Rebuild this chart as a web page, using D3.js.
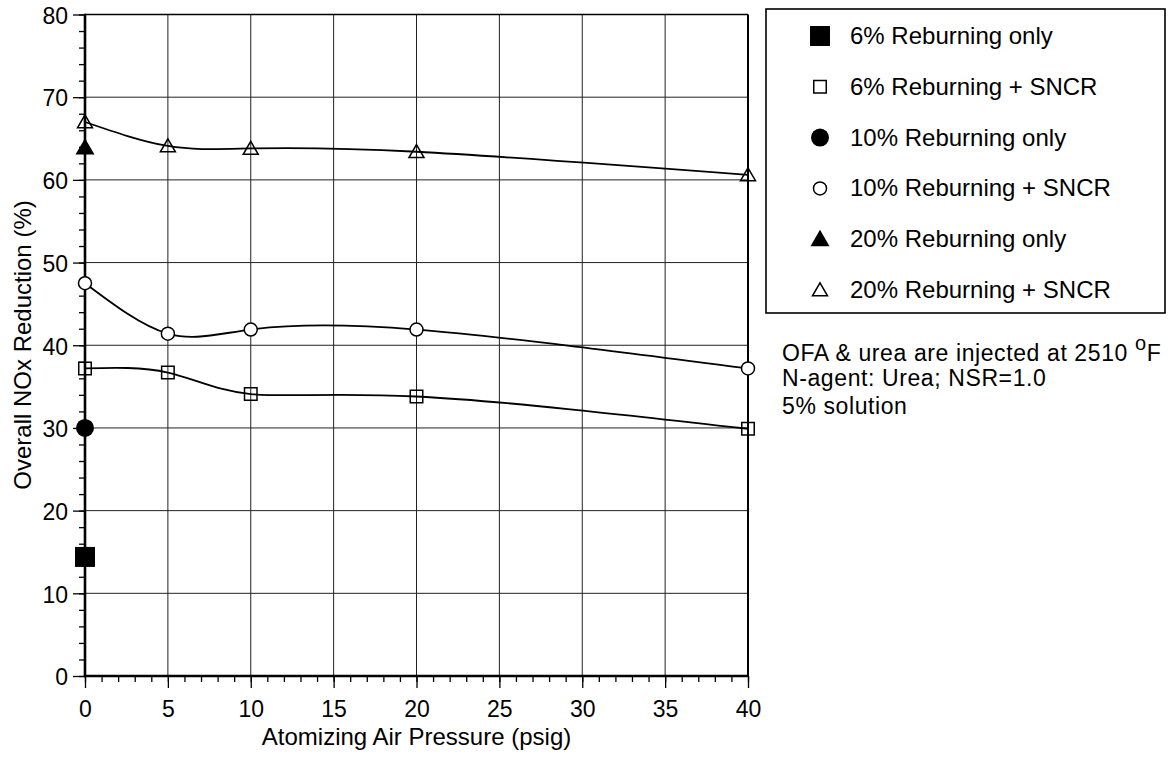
<!DOCTYPE html>
<html>
<head>
<meta charset="utf-8">
<script src="https://cdn.jsdelivr.net/npm/d3@7"></script>
<style>
  body { margin: 0; background: #fff; }
  text { font-family: "Liberation Sans", Arial, sans-serif; fill: #000; }
</style>
</head>
<body>
<svg id="chart" width="1173" height="762"></svg>
<script>
// values
var pressure = [0, 5, 10, 20, 40];
var sncr6 = [37.2, 36.7, 34.1, 33.8, 29.9];
var sncr10 = [47.5, 41.4, 41.9, 41.9, 37.2];
var sncr20 = [67.0, 64.1, 63.8, 63.4, 60.6];
var onlyPressure = [0];
var only6 = [14.4];
var only10 = [30.0];
var only20 = [63.9];

var legendLabels = ["6% Reburning only", "6% Reburning + SNCR", "10% Reburning only",
  "10% Reburning + SNCR", "20% Reburning only", "20% Reburning + SNCR"];
var xTicks = [0, 5, 10, 15, 20, 25, 30, 35, 40];
var yTicks = [0, 10, 20, 30, 40, 50, 60, 70, 80];
var notes = ["OFA & urea are injected at 2510 ", "N-agent: Urea; NSR=1.0", "5% solution"];

var series = [
  { label: legendLabels[0], shape: "square", filled: true, xs: onlyPressure, ys: only6, size: 20 },
  { label: legendLabels[1], shape: "square", filled: false, xs: pressure, ys: sncr6, size: 12.5, line: true },
  { label: legendLabels[2], shape: "circle", filled: true, xs: onlyPressure, ys: only10, size: 18 },
  { label: legendLabels[3], shape: "circle", filled: false, xs: pressure, ys: sncr10, size: 13, line: true },
  { label: legendLabels[4], shape: "triangle", filled: true, xs: onlyPressure, ys: only20, size: 19 },
  { label: legendLabels[5], shape: "triangle", filled: false, xs: pressure, ys: sncr20, size: 15, line: true }
];

var svg = d3.select("#chart");

var x = d3.scaleLinear().domain([0, 40]).range([85, 748]);
var y = d3.scaleLinear().domain([0, 80]).range([676, 14.5]);

// grid
var grid = svg.append("g").attr("stroke", "#222").attr("stroke-width", 1);
grid.selectAll(".vg").data(xTicks.slice(1, -1)).enter().append("line")
  .attr("x1", function (d) { return x(d); }).attr("x2", function (d) { return x(d); })
  .attr("y1", y(80)).attr("y2", y(0));
grid.selectAll(".hg").data(yTicks.slice(1, -1)).enter().append("line")
  .attr("x1", x(0)).attr("x2", x(40))
  .attr("y1", function (d) { return y(d); }).attr("y2", function (d) { return y(d); });

// axes, minor ticks first
svg.append("g")
  .attr("transform", "translate(" + x(0) + ",0)")
  .call(d3.axisLeft(y).tickValues(d3.range(0, 81, 2)).tickSize(6).tickFormat(""))
  .call(function (g) { g.select(".domain").remove(); g.selectAll("line").attr("stroke-width", 1.3); });
svg.append("g")
  .attr("transform", "translate(0," + y(0) + ")")
  .call(d3.axisBottom(x).tickValues(d3.range(0, 41, 1)).tickSize(6).tickFormat(""))
  .call(function (g) { g.select(".domain").remove(); g.selectAll("line").attr("stroke-width", 1.3); });

var yAxis = svg.append("g")
  .attr("transform", "translate(" + x(0) + ",0)")
  .call(d3.axisLeft(y).tickValues(yTicks).tickSize(12).tickPadding(5));
yAxis.select(".domain").remove();
yAxis.selectAll("line").attr("stroke-width", 1.3);
yAxis.selectAll("text").attr("font-size", 23).attr("font-family", null).attr("dy", "0.38em");

var xAxis = svg.append("g")
  .attr("transform", "translate(0," + y(0) + ")")
  .call(d3.axisBottom(x).tickValues(xTicks).tickSize(12).tickPadding(13));
xAxis.select(".domain").remove();
xAxis.selectAll("line").attr("stroke-width", 1.3);
xAxis.selectAll("text").attr("font-size", 23).attr("font-family", null);

// frame
svg.append("line").attr("x1", x(0)).attr("x2", x(40)).attr("y1", y(80)).attr("y2", y(80))
  .attr("stroke", "#000").attr("stroke-width", 1.6);
svg.append("line").attr("x1", x(40)).attr("x2", x(40)).attr("y1", y(80)).attr("y2", y(0))
  .attr("stroke", "#000").attr("stroke-width", 2);
svg.append("line").attr("x1", x(0)).attr("x2", x(0)).attr("y1", y(80) - 0.8).attr("y2", y(0) + 1.2)
  .attr("stroke", "#000").attr("stroke-width", 2.6);
svg.append("line").attr("x1", x(0) - 1.2).attr("x2", x(40) + 1).attr("y1", y(0)).attr("y2", y(0))
  .attr("stroke", "#000").attr("stroke-width", 2.6);

// axis titles
svg.append("text")
  .attr("x", (x(0) + x(40)) / 2).attr("y", 745)
  .attr("text-anchor", "middle").attr("font-size", 24)
  .text("Atomizing Air Pressure (psig)");
svg.append("text")
  .attr("transform", "translate(31," + 345 + ") rotate(-90)")
  .attr("text-anchor", "middle").attr("font-size", 24)
  .text("Overall NOx Reduction (%)");

// curves
var line = d3.line()
  .x(function (d) { return x(d[0]); })
  .y(function (d) { return y(d[1]); })
  .curve(d3.curveNatural);

series.filter(function (s) { return s.line; }).forEach(function (s) {
  svg.append("path")
    .datum(d3.zip(s.xs, s.ys))
    .attr("fill", "none")
    .attr("stroke", "#000")
    .attr("stroke-width", 1.8)
    .attr("d", line);
});

function markerPath(shape, size) {
  if (shape === "square") return d3.symbol(d3.symbolSquare, size * size)();
  if (shape === "circle") return d3.symbol(d3.symbolCircle, Math.PI * size * size / 4)();
  return d3.symbol(d3.symbolTriangle, Math.sqrt(3) / 4 * size * size)();
}

function drawMarker(sel, s) {
  sel.append("path")
    .attr("d", markerPath(s.shape, s.size))
    .attr("fill", s.filled ? "#000" : (s.shape === "circle" ? "#fff" : "none"))
    .attr("stroke", "#000")
    .attr("stroke-width", s.filled ? 0 : 1.5);
}

series.forEach(function (s) {
  d3.zip(s.xs, s.ys).forEach(function (p) {
    var off = s.shape === "triangle" ? 1.5 : 0;
    var g = svg.append("g").attr("transform", "translate(" + x(p[0]) + "," + (y(p[1]) + off) + ")");
    drawMarker(g, s);
  });
});

// legend
svg.append("rect")
  .attr("x", 766).attr("y", 9).attr("width", 399).attr("height", 304)
  .attr("fill", "none").attr("stroke", "#000").attr("stroke-width", 1.6);

var rowY = d3.scaleLinear().domain([0, 5]).range([36, 290]);
series.forEach(function (s, i) {
  var off = s.shape === "triangle" ? 1.5 : 0;
  var g = svg.append("g").attr("transform", "translate(820," + (rowY(i) + off) + ")");
  drawMarker(g, s);
  svg.append("text")
    .attr("x", 850).attr("y", rowY(i) + 8)
    .attr("font-size", 24)
    .text(s.label);
});

// notes
var n1 = svg.append("text").attr("x", 782).attr("y", 361).attr("font-size", 23)
  .attr("letter-spacing", 0.6).text(notes[0]);
n1.append("tspan").attr("font-size", 20).attr("dy", -11).text("o");
n1.append("tspan").attr("dy", 11).text("F");
svg.append("text").attr("x", 782).attr("y", 386).attr("font-size", 23)
  .attr("letter-spacing", 0.6).text(notes[1]);
svg.append("text").attr("x", 782).attr("y", 414).attr("font-size", 23)
  .attr("letter-spacing", 0.6).text(notes[2]);
</script>
</body>
</html>
